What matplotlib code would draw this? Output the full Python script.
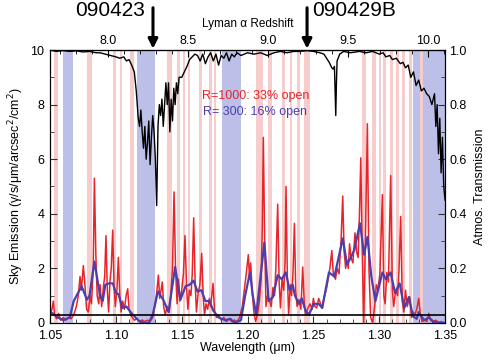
import numpy as np
import matplotlib.pyplot as plt
from matplotlib.ticker import MultipleLocator, FixedLocator

plt.rcParams['font.family'] = ['Liberation Sans', 'DejaVu Sans']

# atmospheric transmission (right axis)
trans_wl = [1.050, 1.055, 1.060, 1.065, 1.070, 1.075, 1.080, 1.085, 1.088, 1.092,
            1.096, 1.100, 1.103, 1.106, 1.108, 1.110, 1.112, 1.114, 1.1155, 1.117,
            1.118, 1.119, 1.120, 1.121, 1.122, 1.123, 1.124, 1.125, 1.126, 1.127,
            1.128, 1.129, 1.130, 1.131, 1.132, 1.133, 1.134, 1.135, 1.136, 1.137,
            1.138, 1.139, 1.140, 1.141, 1.142, 1.143, 1.144, 1.145, 1.146, 1.147,
            1.148, 1.150, 1.152, 1.154, 1.156, 1.158, 1.160, 1.162, 1.164, 1.166,
            1.168, 1.170, 1.172, 1.174, 1.176, 1.178, 1.180, 1.182, 1.184, 1.186,
            1.188, 1.190, 1.192, 1.195, 1.200, 1.205, 1.210, 1.215, 1.220, 1.225,
            1.230, 1.235, 1.240, 1.245, 1.250, 1.255, 1.258, 1.260, 1.262, 1.264,
            1.265, 1.266, 1.2665, 1.267, 1.2675, 1.268, 1.270, 1.273, 1.278, 1.285,
            1.290, 1.295, 1.300, 1.303, 1.305, 1.308, 1.310, 1.313, 1.316, 1.318,
            1.320, 1.322, 1.324, 1.326, 1.328, 1.330, 1.332, 1.334, 1.336, 1.338,
            1.340, 1.342, 1.343, 1.344, 1.345, 1.346, 1.347, 1.348, 1.349, 1.350]
trans = [1.00, 0.995, 0.998, 0.995, 0.997, 0.993, 0.995, 0.99, 0.99, 0.985,
         0.98, 0.975, 0.97, 0.975, 0.96, 0.965, 0.945, 0.92, 0.85, 0.75,
         0.72, 0.78, 0.70, 0.64, 0.72, 0.60, 0.66, 0.74, 0.58, 0.68,
         0.76, 0.70, 0.60, 0.43, 0.72, 0.80, 0.76, 0.82, 0.72, 0.80,
         0.88, 0.80, 0.88, 0.70, 0.82, 0.74, 0.86, 0.80, 0.88, 0.84,
         0.90, 0.90, 0.92, 0.94, 0.965, 0.975, 0.985, 0.98, 0.96, 0.985,
         0.95, 0.975, 0.99, 0.96, 0.985, 0.945, 0.98, 0.97, 0.99, 0.96,
         0.985, 0.975, 0.99, 0.98, 0.99, 0.985, 0.99, 0.98, 0.99, 0.995,
         0.99, 0.995, 0.995, 0.998, 0.995, 0.99, 0.985, 0.97, 0.955, 0.935,
         0.93, 0.94, 0.85, 0.76, 0.88, 0.96, 0.985, 0.995, 0.99, 0.995,
         0.99, 0.995, 0.985, 0.99, 0.975, 0.98, 0.965, 0.97, 0.95, 0.955,
         0.935, 0.945, 0.90, 0.92, 0.87, 0.89, 0.85, 0.86, 0.84, 0.83,
         0.80, 0.84, 0.72, 0.80, 0.62, 0.75, 0.55, 0.68, 0.50, 0.45]

# sky emission, R=1000
r1000_wl = [1.0500, 1.0515, 1.0525, 1.0535, 1.0550, 1.0565, 1.0580, 1.0600, 1.0620, 1.0640,
            1.0660, 1.0680, 1.0700, 1.0715, 1.0728, 1.0738, 1.0753, 1.0765, 1.0778, 1.0790,
            1.0805, 1.0815, 1.0828, 1.0837, 1.0848, 1.0858, 1.0870, 1.0880, 1.0892, 1.0905,
            1.0915, 1.0925, 1.0935, 1.0945, 1.0955, 1.0965, 1.0976, 1.0986, 1.0996, 1.1008,
            1.1019, 1.1030, 1.1040, 1.1052, 1.1065, 1.1078, 1.1090, 1.1100, 1.1112, 1.1125,
            1.1140, 1.1160, 1.1180, 1.1200, 1.1220, 1.1240, 1.1260, 1.1280, 1.1295, 1.1310,
            1.1323, 1.1333, 1.1343, 1.1353, 1.1363, 1.1375, 1.1390, 1.1405, 1.1418, 1.1430,
            1.1442, 1.1453, 1.1465, 1.1475, 1.1487, 1.1500, 1.1513, 1.1525, 1.1537, 1.1547,
            1.1558, 1.1570, 1.1580, 1.1591, 1.1602, 1.1612, 1.1625, 1.1638, 1.1652, 1.1663,
            1.1673, 1.1685, 1.1697, 1.1710, 1.1720, 1.1738, 1.1750, 1.1765, 1.1780, 1.1800,
            1.1820, 1.1840, 1.1860, 1.1880, 1.1900, 1.1920, 1.1940, 1.1960, 1.1975, 1.1990,
            1.2006, 1.2015, 1.2024, 1.2035, 1.2048, 1.2061, 1.2075, 1.2090, 1.2103, 1.2112,
            1.2120, 1.2130, 1.2140, 1.2152, 1.2165, 1.2180, 1.2193, 1.2205, 1.2215, 1.2229,
            1.2240, 1.2250, 1.2262, 1.2275, 1.2285, 1.2292, 1.2302, 1.2312, 1.2325, 1.2335,
            1.2345, 1.2356, 1.2366, 1.2376, 1.2390, 1.2405, 1.2419, 1.2430, 1.2440, 1.2455,
            1.2475, 1.2490, 1.2500, 1.2512, 1.2525, 1.2540, 1.2555, 1.2568, 1.2580, 1.2599,
            1.2612, 1.2625, 1.2640, 1.2652, 1.2668, 1.2680, 1.2695, 1.2710, 1.2723, 1.2733,
            1.2745, 1.2755, 1.2765, 1.2775, 1.2785, 1.2800, 1.2816, 1.2828, 1.2840, 1.2850,
            1.2860, 1.2870, 1.2882, 1.2895, 1.2910, 1.2922, 1.2935, 1.2950, 1.2965, 1.2978,
            1.2990, 1.3005, 1.3024, 1.3035, 1.3045, 1.3058, 1.3070, 1.3087, 1.3100, 1.3110,
            1.3125, 1.3140, 1.3150, 1.3163, 1.3175, 1.3187, 1.3200, 1.3212, 1.3232, 1.3245,
            1.3258, 1.3270, 1.3285, 1.3300, 1.3312, 1.3325, 1.3345, 1.3362, 1.3377, 1.3390,
            1.3410, 1.3430, 1.3450, 1.3470, 1.3500]
r1000 = [0.3, 0.5, 0.8, 0.3, 0.15, 0.35, 0.1, 0.2, 0.1, 0.2,
         0.15, 0.3, 0.6, 1.0, 1.7, 1.2, 2.1, 1.4, 0.5, 0.4,
         1.0, 0.7, 2.0, 5.3, 2.5, 1.0, 0.7, 1.4, 0.6, 1.3,
         1.7, 3.2, 1.2, 0.4, 1.5, 2.0, 3.4, 1.4, 0.6, 1.2,
         2.4, 1.0, 0.4, 0.8, 0.5, 1.0, 1.25, 0.5, 0.3, 0.2,
         0.1, 0.15, 0.05, 0.1, 0.05, 0.1, 0.05, 0.2, 0.6, 1.1,
         1.75, 0.9, 1.2, 1.5, 0.6, 0.3, 0.6, 0.4, 1.1, 2.0,
         4.8, 2.0, 0.7, 1.6, 0.8, 1.2, 1.8, 3.2, 1.3, 0.5,
         1.2, 1.0, 1.8, 3.85, 1.5, 0.4, 1.1, 1.4, 2.55, 1.0,
         0.3, 0.7, 0.5, 0.9, 0.6, 1.45, 0.4, 0.2, 0.3, 0.1,
         0.2, 0.05, 0.15, 0.05, 0.1, 0.05, 0.2, 0.6, 1.2, 1.8,
         2.5, 1.65, 2.2, 1.2, 0.4, 0.05, 0.3, 0.8, 1.6, 3.5,
         6.8, 3.0, 0.6, 1.0, 0.85, 0.6, 1.3, 1.0, 2.0, 4.35,
         1.5, 0.55, 1.6, 1.2, 2.2, 5.0, 1.8, 0.3, 1.4, 1.0,
         1.8, 3.65, 1.2, 0.6, 0.85, 0.5, 2.05, 0.8, 0.3, 0.5,
         0.7, 0.5, 0.9, 0.6, 0.55, 0.9, 0.7, 0.55, 0.9, 1.25,
         1.6, 2.0, 2.65, 1.75, 1.6, 2.0, 1.8, 3.0, 4.65, 2.65,
         2.0, 2.3, 2.0, 2.9, 2.4, 2.2, 3.3, 2.6, 2.4, 4.0,
         6.05, 2.9, 0.0, 3.0, 7.3, 2.0, 0.2, 0.0, 0.6, 1.4,
         1.2, 1.8, 4.7, 1.0, 0.7, 1.85, 1.5, 5.4, 1.2, 0.6,
         1.2, 1.0, 1.9, 3.9, 0.8, 0.4, 1.2, 0.6, 0.95, 0.2,
         0.4, 0.3, 0.5, 0.9, 0.3, 0.05, 0.1, 0.05, 0.35, 0.1,
         0.05, 0.1, 0.02, 0.05, 0.0]

# sky emission, R=300
r300_wl = [1.050, 1.052, 1.056, 1.060, 1.065, 1.068, 1.074, 1.078, 1.080, 1.0837,
           1.088, 1.090, 1.092, 1.095, 1.0977, 1.100, 1.102, 1.105, 1.108, 1.112,
           1.117, 1.120, 1.125, 1.128, 1.132, 1.136, 1.140, 1.145, 1.149, 1.153,
           1.156, 1.159, 1.162, 1.165, 1.168, 1.171, 1.174, 1.178, 1.183, 1.187,
           1.190, 1.195, 1.198, 1.2018, 1.204, 1.2066, 1.2128, 1.216, 1.2193, 1.2229,
           1.226, 1.229, 1.232, 1.2343, 1.236, 1.239, 1.2412, 1.244, 1.2466, 1.2503,
           1.254, 1.2567, 1.2618, 1.266, 1.2723, 1.2755, 1.2785, 1.2812, 1.2854, 1.2885,
           1.2911, 1.294, 1.2971, 1.3024, 1.305, 1.3087, 1.312, 1.3155, 1.319, 1.3226,
           1.3255, 1.3285, 1.330, 1.334, 1.3377, 1.341, 1.3450, 1.3500]
r300 = [0.4, 0.35, 0.2, 0.1, 0.2, 0.8, 1.35, 0.85, 1.0, 2.25,
        1.0, 0.8, 1.4, 1.45, 1.45, 1.1, 1.05, 0.55, 0.6, 0.35,
        0.1, 0.0, 0.0, 0.3, 1.15, 0.85, 0.4, 2.05, 0.85, 1.35,
        1.4, 1.55, 1.15, 1.2, 0.8, 0.8, 0.45, 0.2, 0.1, 0.15,
        0.0, 0.1, 0.95, 1.85, 1.0, 0.3, 2.95, 0.8, 0.95, 1.75,
        1.6, 1.85, 1.2, 1.4, 1.0, 0.7, 0.9, 0.45, 0.3, 0.7,
        0.7, 0.55, 1.85, 1.7, 3.1, 2.15, 2.4, 2.7, 3.65, 2.5,
        3.15, 1.7, 0.8, 1.85, 1.6, 1.85, 1.1, 1.45, 0.55, 0.95,
        0.25, 0.15, 0.4, 0.1, 0.2, 0.05, 0.0, 0.0]

# open windows
blue_bands = [(1.0599, 1.0673), (1.1160, 1.1299), (1.1806, 1.1950), (1.3257, 1.3500)]
pink_bands = [(1.0530, 1.0561), (1.0781, 1.0819), (1.0978, 1.1001), (1.1032, 1.1047),
              (1.1108, 1.1138), (1.1389, 1.1427), (1.1465, 1.1487), (1.1510, 1.1525),
              (1.1548, 1.1563), (1.1632, 1.1654), (1.1708, 1.1730), (1.1746, 1.1761),
              (1.2065, 1.2118), (1.2156, 1.2186), (1.2262, 1.2285), (1.2323, 1.2338),
              (1.2376, 1.2399), (1.2429, 1.2475), (1.2870, 1.2900), (1.2945, 1.2976),
              (1.2999, 1.3014), (1.3029, 1.3052), (1.3082, 1.3105), (1.3128, 1.3151),
              (1.3173, 1.3196), (1.3227, 1.3249), (1.3310, 1.3333)]

grb_names = ['090423', '090429B']
grb_wl = [1.1282, 1.2452]
z_ticks = [8.0, 8.5, 9.0, 9.5, 10.0]

lya = 0.12157

fig = plt.figure(figsize=(4.88, 3.6), dpi=100)
ax = fig.add_axes([0.1025, 0.103, 0.8095, 0.758])

for a, b in blue_bands:
    ax.axvspan(a, b, color='#bcc0e8', lw=0, zorder=0)
for a, b in pink_bands:
    ax.axvspan(a, b, color='#f6cccc', lw=0, zorder=0)

ax.plot(r1000_wl, r1000, color='#e8242a', lw=1.1, zorder=2)
ax.plot(r300_wl, r300, color='#4b3fae', lw=1.6, zorder=3)
ax.axhline(0.3, color='black', lw=1.2, zorder=4)

ax.set_xlim(1.05, 1.35)
ax.set_ylim(0, 10)
ax.xaxis.set_major_locator(MultipleLocator(0.05))
ax.xaxis.set_minor_locator(MultipleLocator(0.01))
ax.yaxis.set_major_locator(MultipleLocator(2))
ax.yaxis.set_minor_locator(MultipleLocator(1))
ax.xaxis.set_major_formatter(plt.FormatStrFormatter('%.2f'))
ax.tick_params(which='both', direction='in', labelsize=9, color='#333333')
ax.tick_params(which='major', length=5)
ax.tick_params(which='minor', length=3)
ax.tick_params(axis='x', pad=5)
ax.tick_params(axis='y', pad=4)
ax.set_xlabel('Wavelength (μm)', fontsize=9, labelpad=0)
ax.set_ylabel('Sky Emission (γ/s/μm/arcsec$^2$/cm$^2$)', fontsize=9, labelpad=3)

ax.text(0.52, 0.83, 'R=1000: 33% open', color='#e8242a', fontsize=9,
        ha='center', va='center', transform=ax.transAxes)
ax.text(0.52, 0.772, 'R= 300: 16% open', color='#4b3fae', fontsize=9,
        ha='center', va='center', transform=ax.transAxes)

ax2 = ax.twinx()
ax2.plot(trans_wl, trans, color='black', lw=1.0)
ax2.set_ylim(0, 1)
ax2.yaxis.set_major_locator(MultipleLocator(0.2))
ax2.yaxis.set_minor_locator(MultipleLocator(0.1))
ax2.yaxis.set_major_formatter(plt.FormatStrFormatter('%.1f'))
ax2.tick_params(which='both', direction='in', labelsize=9, color='#333333', pad=3)
ax2.tick_params(which='major', length=5)
ax2.tick_params(which='minor', length=3)
ax2.set_ylabel('Atmos. Transmission', fontsize=9, labelpad=5)

top = ax.secondary_xaxis('top', functions=(lambda w: w / lya - 1, lambda z: (z + 1) * lya))
top.xaxis.set_major_locator(FixedLocator(z_ticks))
top.xaxis.set_minor_locator(MultipleLocator(0.1))
top.xaxis.set_major_formatter(plt.FormatStrFormatter('%.1f'))
top.tick_params(which='both', direction='in', labelsize=9, pad=2)
top.tick_params(which='major', length=5)
top.tick_params(which='minor', length=3)
top.set_xlabel('Lyman α Redshift', fontsize=8.5, labelpad=6)

for name, wl, dx in zip(grb_names, grb_wl, [-0.006, 0.004]):
    ax.annotate('', xy=(wl, 1.005), xycoords=('data', 'axes fraction'),
                xytext=(wl, 1.155), textcoords=('data', 'axes fraction'),
                arrowprops=dict(arrowstyle='-|>', color='black', lw=2.2,
                                mutation_scale=14, shrinkA=0, shrinkB=0))
    ax.text(wl + dx, 1.145, name, fontsize=15, ha='right' if dx < 0 else 'left',
            va='center', transform=ax.get_xaxis_transform())

fig.savefig('out.png', dpi=100)
